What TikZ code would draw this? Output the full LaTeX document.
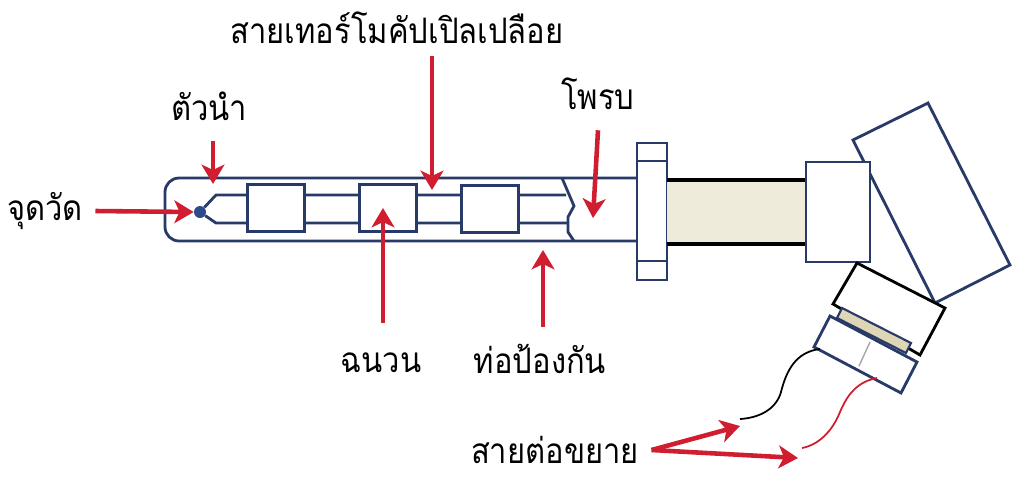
\documentclass[tikz,border=0pt]{standalone}
\usepackage{fontspec}
\newfontfamily\thaifont[Script=Thai, FakeStretch=0.88]{Loma}
\usetikzlibrary{arrows.meta}
\definecolor{probeblue}{RGB}{40,58,104}
\definecolor{dotblue}{RGB}{45,75,140}
\definecolor{markred}{RGB}{208,30,48}
\definecolor{tubefill}{RGB}{239,235,218}
\definecolor{stripfill}{RGB}{222,214,180}

\begin{document}
\begin{tikzpicture}[x=0.2mm, y=-0.2mm,
  every node/.style={font=\thaifont\fontsize{20}{24}\selectfont, inner sep=0pt},
  part/.style={draw=probeblue, line width=1.6pt, fill=white},
  insbox/.style={part, minimum width=11.5mm, minimum height=9.3mm},
  arrow/.style={-{Stealth[length=11pt, width=13pt, inset=3pt]}, line width=2.6pt, markred},
  lead/.style={line width=1pt}
]
  \useasboundingbox (0,0) rectangle (1013,478);

  % sheath with the broken end
  \draw[part, fill=none, rounded corners=8pt] (637,178) -- (165,178) -- (165,241) -- (637,241);
  \draw[probeblue, line width=1.6pt] (562,178) -- (574,206) -- (568,217) -- (568,232) -- (574,241);

  % thermocouple wires and junction
  \node[circle, fill=dotblue, minimum size=2.4mm] (dot) at (200,212) {};
  \draw[probeblue, line width=1.6pt] (dot) -- (216,195) -- (566,195);
  \draw[probeblue, line width=1.6pt] (dot) -- (216,223) -- (568,223);

  % insulators
  \node[insbox] (ins1) at (276,208) {};
  \node[insbox] (ins2) at (388,208) {};
  \node[insbox] (ins3) at (490,209) {};

  % flange and extension tube
  \draw[part] (637,143) rectangle (667,280);
  \draw[probeblue, line width=1.6pt] (637,161) -- (667,161) (637,261) -- (667,261);
  \fill[tubefill] (667,180) rectangle (806,244);
  \draw[line width=2pt] (667,180) -- (806,180) (667,244) -- (806,244);

  % connection head
  \draw[part] (853,140) -- (928,103) -- (1010,265) -- (935,303) -- cycle;
  \draw[part] (806,162) rectangle (870,262);
  \draw[line width=1.6pt, fill=white] (857,263) -- (945,308) -- (920,355) -- (833,304) -- cycle;
  \draw[draw=probeblue, line width=1.2pt, fill=stripfill] (842,308) -- (911,343) -- (906,353) -- (837,318) -- cycle;
  \draw[part] (830,316) -- (917,362) -- (901,393) -- (814,347) -- cycle;
  \draw[gray!70, line width=0.8pt] (870,342) -- (859,366);

  % extension leads
  \draw[lead] (820,349) .. controls (795,352) and (786,372) .. (781,392)
              .. controls (776,410) and (758,418) .. (740,419);
  \draw[lead, markred] (877,378) .. controls (855,382) and (846,398) .. (840,412)
              .. controls (832,432) and (818,445) .. (802,448);

  % labels
  \node (wirelbl) at (397,28)  {สายเทอร์โมคัปเปิลเปลือย};
  \node (tuanam)  at (209,106) {ตัวนำ};
  \node (jud)     at (45,211)  {จุดวัด};
  \node (probe)   at (598,94)  {โพรบ};
  \node (insul)   at (381,363) {ฉนวน};
  \node (sheath)  at (540,359) {ท่อป้องกัน};
  \node (extlbl)  at (555,450) {สายต่อขยาย};

  % arrow ends
  \coordinate (tuanamTip) at (213,184);
  \coordinate (wireTip)   at (432,190);
  \coordinate (probeTip)  at (593,218);
  \coordinate (insulTip)  at (383,208);
  \coordinate (sheathTip) at (543,250);
  \coordinate (blackTip)  at (740,426);
  \coordinate (redTip)    at (798,458);

  \draw[arrow] ([xshift=7pt]jud.east) -- (dot.west);
  \draw[arrow] (tuanam.south -| tuanamTip) ++(0,20) -- (tuanamTip);
  \draw[arrow] (wirelbl.south -| wireTip) ++(0,12) -- (wireTip);
  \draw[arrow] (probe.south -| 598,0) ++(0,20) -- (probeTip);
  \draw[arrow] (insul.north -| insulTip) ++(0,-30) -- (insulTip);
  \draw[arrow] (sheath.north -| sheathTip) ++(0,-17) -- (sheathTip);
  \draw[arrow] ([xshift=7pt]extlbl.east) -- (blackTip);
  \draw[arrow] ([xshift=7pt]extlbl.east) -- (redTip);
\end{tikzpicture}
\end{document}
